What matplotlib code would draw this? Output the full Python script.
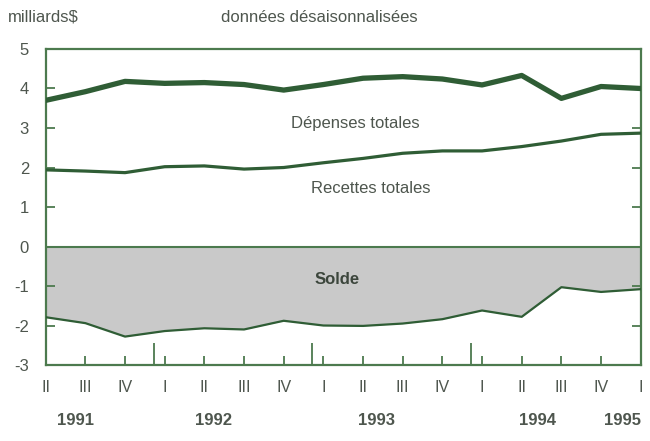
import numpy as np
import matplotlib.pyplot as plt

plt.rcParams['font.family'] = ['Liberation Sans', 'DejaVu Sans']

#### data (milliards $, donnees desaisonnalisees) ####
quarters = ['II', 'III', 'IV', 'I', 'II', 'III', 'IV', 'I', 'II', 'III', 'IV', 'I', 'II', 'III', 'IV', 'I']
years = ['1991', '1992', '1993', '1994', '1995']
depenses = [3.70, 3.92, 4.18, 4.13, 4.15, 4.10, 3.96, 4.10, 4.26, 4.30, 4.24, 4.09, 4.33, 3.75, 4.05, 4.00]
recettes = [1.94, 1.91, 1.87, 2.02, 2.04, 1.96, 2.00, 2.12, 2.23, 2.36, 2.42, 2.42, 2.53, 2.67, 2.84, 2.87]
solde = [-1.79, -1.94, -2.28, -2.14, -2.07, -2.10, -1.88, -2.00, -2.01, -1.95, -1.84, -1.62, -1.78, -1.03, -1.15, -1.08]
y_ticks = [5, 4, 3, 2, 1, 0, -1, -2, -3]

# year label positions (in quarter index units) and year separators
year_pos = [0.74, 4.22, 8.33, 12.4, 14.55]
year_sep = [2.72, 6.72, 10.72]

GREEN = '#2f5d35'
FRAME = '#4c7a4e'
TXT = '#4e564e'

x = np.arange(len(quarters))

fig = plt.figure(figsize=(6.5, 4.41), dpi=100)
ax = fig.add_axes([0.0703, 0.1723, 0.9154, 0.7166])

# solde area
ax.fill_between(x, 0, solde, color='#c9c9c9', lw=0, zorder=1)
ax.plot(x, solde, color=GREEN, lw=1.6, zorder=3)
ax.axhline(0, color=FRAME, lw=1.5, zorder=4)

ax.plot(x, depenses, color=GREEN, lw=3.8, zorder=3, solid_joinstyle='round')
ax.plot(x, recettes, color=GREEN, lw=2.3, zorder=3, solid_joinstyle='round')

ax.set_xlim(0, len(quarters) - 1)
ax.set_ylim(-3, 5)

for s in ax.spines.values():
    s.set_color(FRAME)
    s.set_linewidth(1.6)

ax.set_yticks(y_ticks)
ax.set_yticklabels([str(v) for v in y_ticks])
ax.tick_params(axis='y', direction='in', length=6.5, width=1.3, color=FRAME,
               labelsize=12, labelcolor=TXT, pad=12, right=True)

ax.set_xticks(x)
ax.set_xticklabels(quarters)
ax.tick_params(axis='x', which='major', direction='in', length=6.5, width=1.3, color=FRAME,
               labelsize=11.5, labelcolor=TXT, pad=11)
ax.set_xticks(year_sep, minor=True)
ax.tick_params(axis='x', which='minor', direction='in', length=16, width=1.3, color=FRAME)

for yr, p in zip(years, year_pos):
    ax.text(p, -0.174, yr, transform=ax.get_xaxis_transform(), ha='center', va='center',
            fontsize=12, fontweight='bold', color=TXT)

ax.text(7.8, 3.12, 'Dépenses totales', ha='center', va='center', fontsize=12, color=TXT)
ax.text(8.2, 1.48, 'Recettes totales', ha='center', va='center', fontsize=12, color=TXT)
ax.text(7.35, -0.84, 'Solde', ha='center', va='center', fontsize=12, fontweight='bold', color='#3c463c')

fig.text(0.012, 0.962, 'milliards$', ha='left', va='center', fontsize=12, color=TXT)
fig.text(0.492, 0.960, 'données désaisonnalisées', ha='center', va='center', fontsize=12, color=TXT)

fig.savefig('out.png', dpi=100, facecolor='white')
